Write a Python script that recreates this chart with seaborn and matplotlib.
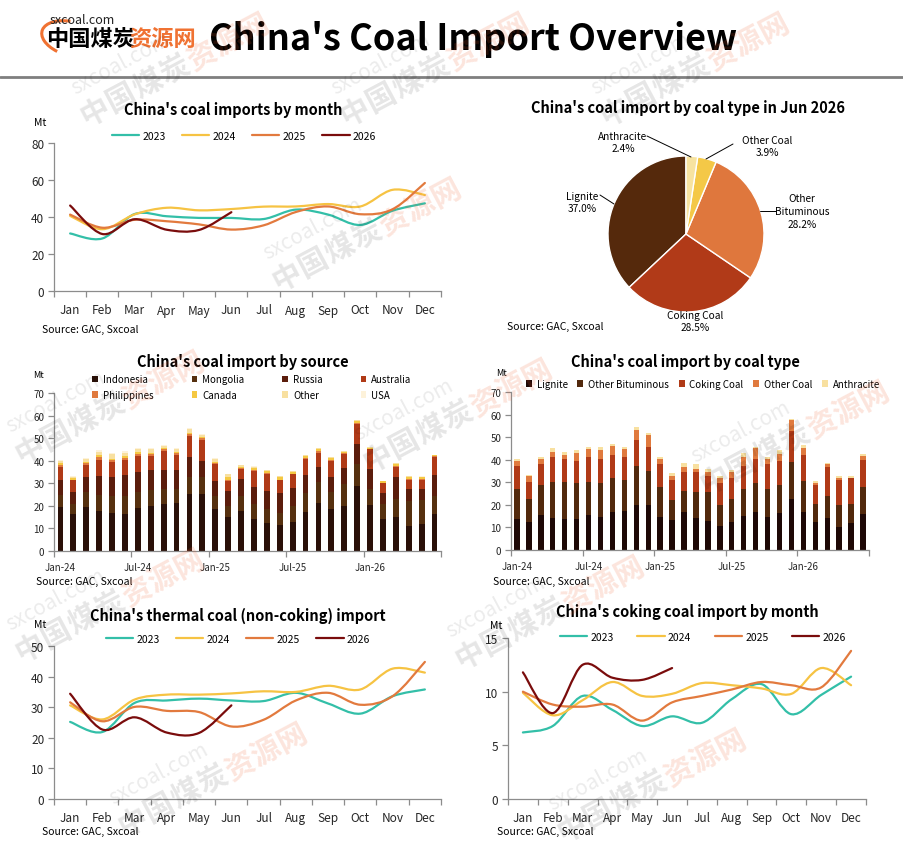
import matplotlib
matplotlib.use("Agg")
import matplotlib.pyplot as plt
from matplotlib.path import Path
from matplotlib.patches import PathPatch, Patch, Arc
from matplotlib.lines import Line2D
import numpy as np
import pandas as pd
import seaborn as sns

# ---- data -------------------------------------------------------------
months = ["Jan", "Feb", "Mar", "Apr", "May", "Jun",
          "Jul", "Aug", "Sep", "Oct", "Nov", "Dec"]
periods = [f"{m}-{y}" for y in ("24", "25", "26") for m in months][:30]

# total imports by month (Mt)
total_2023 = [31.1, 28.4, 41.6, 40.4, 39.5, 39.5, 38.9, 44.0, 41.3, 35.7, 43.4, 47.4]
total_2024 = [40.6, 33.4, 41.4, 45.0, 43.6, 44.3, 45.6, 45.7, 47.0, 45.7, 54.7, 51.9]
total_2025 = [41.3, 34.2, 38.5, 37.7, 36.0, 33.2, 35.5, 42.7, 45.7, 41.5, 44.2, 58.4]
total_2026 = [46.2, 30.8, 38.8, 33.1, 33.0, 42.6]

# thermal (non-coking) coal
thermal_2023 = [25.2, 21.9, 31.4, 32.2, 32.8, 32.2, 32.0, 34.7, 31.2, 27.9, 33.6, 35.8]
thermal_2024 = [30.6, 26.0, 32.5, 34.1, 34.1, 34.5, 35.2, 35.0, 37.0, 35.8, 42.6, 41.3]
thermal_2025 = [31.6, 25.4, 30.1, 28.8, 28.4, 23.7, 25.9, 32.2, 34.7, 30.8, 33.6, 44.8]
thermal_2026 = [34.4, 22.7, 26.7, 21.7, 21.6, 30.6]

# coking coal
coking_2023 = [6.2, 6.8, 9.6, 8.3, 6.8, 7.7, 7.1, 9.3, 10.7, 7.9, 9.7, 11.4]
coking_2024 = [9.9, 7.8, 9.2, 10.9, 9.6, 9.8, 10.8, 10.6, 10.3, 9.8, 12.2, 10.6]
coking_2025 = [10.0, 8.8, 8.6, 8.8, 7.3, 9.0, 9.6, 10.2, 10.9, 10.6, 10.4, 13.8]
coking_2026 = [11.8, 8.0, 12.5, 11.3, 11.1, 12.2]

# imports by source, Jan-24 .. Jun-26
indonesia = [19.6, 16.6, 19.6, 17.7, 16.9, 16.5, 19.0, 20.0, 20.8, 21.4, 25.2, 25.2,
             18.8, 15.1, 17.7, 14.1, 12.5, 11.6, 12.9, 17.4, 21.4, 18.5, 20.0, 28.9,
             20.5, 14.1, 15.1, 11.1, 11.9, 16.3]
mongolia = [5.4, 4.4, 6.7, 7.3, 7.6, 8.0, 7.0, 7.0, 6.7, 6.1, 7.4, 7.4,
            5.7, 4.9, 6.8, 6.7, 6.0, 5.4, 7.1, 8.3, 9.0, 7.5, 9.7, 9.7,
            7.0, 6.7, 7.9, 11.2, 10.8, 8.2]
russia = [6.5, 5.1, 6.7, 8.4, 8.5, 9.2, 9.0, 8.9, 8.4, 8.4, 9.1, 7.3,
          6.5, 6.6, 7.4, 7.7, 8.1, 8.7, 8.0, 8.0, 7.0, 7.0, 7.2, 8.6,
          8.9, 4.9, 10.0, 5.1, 4.7, 9.2]
australia = [5.9, 5.4, 5.3, 7.1, 6.5, 6.8, 7.3, 6.4, 8.3, 6.7, 9.3, 9.1,
             7.6, 4.6, 4.5, 7.0, 7.7, 5.6, 6.0, 7.1, 6.2, 7.0, 6.1, 9.2,
             8.6, 4.3, 4.1, 4.2, 4.2, 7.8]
philippines = [0.9, 0.0, 0.7, 1.3, 0.6, 0.8, 0.7, 0.5, 0.8, 0.6, 0.7, 0.9,
               0.5, 0.3, 0.4, 0.5, 0.3, 0.2, 0.2, 0.6, 0.6, 0.4, 0.3, 0.5,
               0.3, 0.3, 0.6, 0.5, 0.4, 0.4]
canada = [0.9, 0.8, 0.6, 0.8, 0.6, 0.7, 0.8, 0.6, 0.8, 0.6, 0.8, 0.6,
          0.5, 1.2, 0.6, 0.7, 0.8, 1.4, 1.0, 0.6, 1.0, 0.8, 0.5, 0.9,
          0.5, 0.5, 0.7, 0.9, 0.8, 0.5]
other_src = [0.8, 0.6, 1.0, 1.4, 2.2, 1.5, 1.3, 1.8, 0.8, 1.4, 1.6, 1.0,
             1.2, 1.2, 0.7, 0.6, 0.4, 0.4, 0.2, 0.5, 0.4, 0.5, 0.3, 0.3,
             0.1, 0.1, 0.5, 0.3, 0.2, 0.1]
usa = [0.4, 0.3, 0.8, 0.8, 0.6, 0.7, 0.4, 0.5, 0.4, 0.5, 0.6, 0.4,
       0.4, 0.2, 0.2, 0.2, 0.1, 0.1, 0.1, 0.1, 0.1, 0.1, 0.1, 0.1,
       0.1, 0.1, 0.1, 0.1, 0.1, 0.1]

# imports by coal type, Jan-24 .. Jun-26
lignite = [13.8, 12.4, 15.7, 14.2, 13.8, 13.8, 15.7, 14.8, 16.9, 17.3, 20.1, 20.1,
           14.8, 13.3, 16.9, 14.2, 12.9, 10.8, 12.6, 15.2, 16.9, 14.8, 16.4, 22.6,
           16.9, 12.4, 14.2, 10.2, 12.0, 15.8]
other_bit = [13.3, 10.2, 12.9, 16.1, 16.5, 15.9, 14.6, 14.7, 15.2, 13.8, 16.9, 15.0,
             13.0, 9.0, 9.4, 11.6, 12.9, 9.2, 10.0, 11.9, 12.6, 12.3, 12.5, 16.5,
             13.7, 8.0, 9.9, 9.8, 8.4, 12.0]
coking_type = [10.3, 7.7, 9.3, 11.1, 9.8, 9.8, 10.7, 10.6, 10.1, 9.9, 11.8, 10.6,
               10.1, 8.8, 8.3, 8.8, 7.2, 9.5, 9.5, 10.3, 10.6, 10.8, 10.6, 13.7,
               11.6, 8.2, 12.5, 11.1, 11.3, 12.1]
other_coal = [2.1, 2.3, 2.2, 2.1, 2.1, 3.6, 3.8, 4.4, 4.0, 3.8, 4.5, 5.1,
              2.5, 1.9, 2.0, 1.4, 1.6, 2.2, 2.5, 3.6, 4.9, 2.5, 3.1, 4.6,
              2.8, 1.3, 1.6, 1.0, 0.4, 1.7]
anthracite = [0.9, 0.8, 1.2, 1.5, 1.3, 1.3, 0.9, 1.2, 0.8, 0.9, 1.3, 1.1,
              0.9, 1.2, 2.0, 1.9, 1.4, 1.3, 0.9, 1.8, 0.7, 0.9, 1.5, 0.8,
              1.3, 0.7, 0.4, 0.9, 0.9, 1.0]

# Jun 2026 share by coal type (%), counter-clockwise from 12 o'clock
pie_labels = ["Lignite", "Coking Coal", "Other\nBituminous", "Other Coal", "Anthracite"]
pie_share = [37.0, 28.5, 28.2, 3.9, 2.4]

# ---- style ------------------------------------------------------------
sns.set_theme(style="white")
plt.rcParams["font.family"] = ["Noto Sans CJK SC", "DejaVu Sans"]
plt.rcParams["axes.edgecolor"] = "#8c8c8c"
plt.rcParams["axes.linewidth"] = 0.9
plt.rcParams["text.color"] = "black"

YEAR_COLORS = {"2023": "#33bfa8", "2024": "#f6c343", "2025": "#e27a3e", "2026": "#7a0c0c"}
GRAY = "#8c8c8c"

W, H = 904, 853
fig = plt.figure(figsize=(W / 100, H / 100), dpi=100)
fig.patch.set_facecolor("white")


def rect(x0, y0, x1, y1):
    return [x0 / W, 1 - y1 / H, (x1 - x0) / W, (y1 - y0) / H]


def ftext(x, y, s, **kw):
    return fig.text(x / W, 1 - y / H, s, **kw)


def smooth_path(xs, ys):
    # cubic bezier through the points (Excel-like "smoothed line")
    pts = np.column_stack([xs, ys]).astype(float)
    verts = [pts[0]]
    codes = [Path.MOVETO]
    n = len(pts)
    for i in range(n - 1):
        p0 = pts[i - 1] if i > 0 else pts[i]
        p1, p2 = pts[i], pts[i + 1]
        p3 = pts[i + 2] if i + 2 < n else pts[i + 1]
        verts += [p1 + (p2 - p0) / 6, p2 - (p3 - p1) / 6, p2]
        codes += [Path.CURVE4] * 3
    return Path(verts, codes)


def style_axes(ax, ymax, ystep, fs, xpad):
    sns.despine(ax=ax)
    ax.set_ylim(0, ymax)
    ax.set_yticks(np.arange(0, ymax + 0.01, ystep))
    ax.tick_params(axis="y", which="major", direction="out", length=4, width=0.9,
                   color=GRAY, labelsize=fs, pad=3, left=True)
    ax.tick_params(axis="x", which="major", length=0, labelsize=fs, pad=xpad)
    ax.tick_params(axis="x", which="minor", direction="out", length=4, width=0.9,
                   color=GRAY, bottom=True)
    ax.set_xlabel("")
    ax.set_ylabel("")
    ax.set_facecolor("none")


def line_panel(box, series, ymax, ystep, title, title_xy, mt_xy, leg_xy, leg_sp, src_xy):
    ax = fig.add_axes(rect(*box))
    for year, vals in series:
        ax.add_patch(PathPatch(smooth_path(np.arange(len(vals)), vals), fill=False,
                               edgecolor=YEAR_COLORS[year], lw=1.6, capstyle="round"))
    ax.set_xlim(-0.5, 11.5)
    ax.set_xticks(range(12))
    ax.set_xticklabels(months)
    ax.set_xticks(np.arange(-0.5, 12, 1), minor=True)
    style_axes(ax, ymax, ystep, 8.5, 9)
    ftext(*title_xy, title, ha="center", va="center", fontsize=10.5, fontweight="bold")
    ftext(*mt_xy, "Mt", ha="center", va="center", fontsize=7.5)
    ftext(*src_xy, "Source: GAC, Sxcoal", ha="left", va="center", fontsize=7.5)
    handles = [Line2D([], [], color=YEAR_COLORS[y], lw=1.6) for y, _ in series]
    fig.legend(handles, [y for y, _ in series], loc="center", ncol=4, frameon=False,
               bbox_to_anchor=(leg_xy[0] / W, 1 - leg_xy[1] / H), fontsize=7.5,
               handlelength=2.6, handletextpad=0.3, columnspacing=leg_sp)
    return ax


def bar_panel(box, series, title, title_xy, mt_xy, leg_xy, leg_ncol, leg_sp, src_xy):
    ax = fig.add_axes(rect(*box))
    cums = np.cumsum(np.array([v for _, v, _ in series]), axis=0)
    # draw cumulative tops from the highest down, so each layer shows its own slice
    for k in reversed(range(len(series))):
        sns.barplot(x=periods, y=cums[k], order=periods, color=series[k][2], saturation=1,
                    width=0.45, linewidth=0, errorbar=None, ax=ax)
    ax.set_xlim(-0.5, 29.5)
    ax.set_xticks(range(0, 30, 6))
    ax.set_xticklabels([periods[i] for i in range(0, 30, 6)])
    ax.set_xticks(np.arange(-0.5, 30, 6), minor=True)
    style_axes(ax, 70, 10, 7, 8)
    ftext(*title_xy, title, ha="center", va="center", fontsize=10.5, fontweight="bold")
    ftext(*mt_xy, "Mt", ha="center", va="center", fontsize=6.5)
    ftext(*src_xy, "Source: GAC, Sxcoal", ha="left", va="center", fontsize=7.5)
    # legend fills column by column, so reorder to read row by row
    nrow = int(np.ceil(len(series) / leg_ncol))
    order = [r * leg_ncol + c for c in range(leg_ncol) for r in range(nrow)
             if r * leg_ncol + c < len(series)]
    handles = [Patch(facecolor=series[i][2], edgecolor="none") for i in order]
    names = [series[i][0] for i in order]
    fig.legend(handles, names, loc="center", ncol=leg_ncol, frameon=False,
               bbox_to_anchor=(leg_xy[0] / W, 1 - leg_xy[1] / H), fontsize=7,
               handlelength=0.6, handleheight=0.6, handletextpad=0.5,
               columnspacing=leg_sp, labelspacing=0.6)
    return ax


# ---- header -------------------------------------------------------------
ftext(82, 20, "sxcoal.com", ha="center", va="center", fontsize=9, color="#222222")
ftext(46, 39, "中国煤炭", ha="left", va="center", fontsize=16, fontweight="bold")
ftext(129, 39, "资源网", ha="left", va="center", fontsize=16, fontweight="bold", color="#f07232")
fig.add_artist(Arc((0.72, 8.53 - 0.40), 0.62, 0.34, angle=-15, theta1=110, theta2=235,
                   transform=fig.dpi_scale_trans, color="#f07232", lw=2.2))
ftext(473, 40, "China's Coal Import Overview", ha="center", va="center",
      fontsize=26, fontweight="bold")
fig.add_artist(Line2D([0, 1], [1 - 78 / H, 1 - 78 / H], transform=fig.transFigure,
                      color="#7f7f7f", lw=2))

# ---- panels ---------------------------------------------------------------
line_panel((54, 144, 441, 292),
           [("2023", total_2023), ("2024", total_2024), ("2025", total_2025), ("2026", total_2026)],
           80, 20, "China's coal imports by month", (233, 110), (40, 123), (244, 137), 1.6,
           (42, 330))

line_panel((54, 647, 441, 800),
           [("2023", thermal_2023), ("2024", thermal_2024), ("2025", thermal_2025), ("2026", thermal_2026)],
           50, 10, "China's thermal coal (non-coking) import", (238, 616), (40, 625), (238, 640), 1.6,
           (42, 832))

line_panel((508, 639, 866, 800),
           [("2023", coking_2023), ("2024", coking_2024), ("2025", coking_2025), ("2026", coking_2026)],
           15, 5, "China's coking coal import by month", (687, 612), (496, 626), (703, 638), 2.3,
           (497, 832))

bar_panel((54, 394, 441, 552),
          [("Indonesia", indonesia, "#2a1008"), ("Mongolia", mongolia, "#56300f"),
           ("Russia", russia, "#5b1d0c"), ("Australia", australia, "#b03a17"),
           ("Philippines", philippines, "#e07a3e"), ("Canada", canada, "#f5c842"),
           ("Other", other_src, "#f8e0a0"), ("USA", usa, "#fdf2da")],
          "China's coal import by source", (243, 362), (38, 376), (252, 388), 4, 3.9, (36, 582))

bar_panel((511, 393, 869, 551),
          [("Lignite", lignite, "#1e0806"), ("Other Bituminous", other_bit, "#52290d"),
           ("Coking Coal", coking_type, "#b03a17"), ("Other Coal", other_coal, "#e07a3e"),
           ("Anthracite", anthracite, "#f8e0a0")],
          "China's coal import by coal type", (685, 362), (502, 374), (703, 385), 5, 1.0, (493, 582))

# pie
cx, cy, r = 686, 235, 78
axp = fig.add_axes(rect(cx - r, cy - r, cx + r, cy + r))
axp.pie(pie_share, colors=["#55290c", "#b13a18", "#df773d", "#f4c847", "#f7e3a0"],
        startangle=90, counterclock=True, radius=1,
        wedgeprops=dict(edgecolor="white", linewidth=1.0))
axp.set_xlim(-1, 1)
axp.set_ylim(-1, 1)
axp.axis("off")


def pie_xy(px, py):
    return ((px - cx) / r, (cy - py) / r)


pie_text = [
    ("Lignite\n37.0%", (582, 203), ((600, 196), (614, 205))),
    ("Coking Coal\n28.5%", (695, 322), None),
    ("Other\nBituminous\n28.2%", (802, 212), ((776, 212), (760, 212))),
    ("Other Coal\n3.9%", (767, 147), ((733, 145), (706, 160))),
    ("Anthracite\n2.4%", (623, 143), ((647, 137), (691, 158))),
]
for txt, pos, lead in pie_text:
    axp.text(*pie_xy(*pos), txt, ha="center", va="center", fontsize=7.3,
             linespacing=1.35, clip_on=False)
    if lead:
        (x0, y0), (x1, y1) = lead
        axp.plot([pie_xy(x0, y0)[0], pie_xy(x1, y1)[0]], [pie_xy(x0, y0)[1], pie_xy(x1, y1)[1]],
                 color="black", lw=0.7, clip_on=False)
ftext(688, 108, "China's coal import by coal type in Jun 2026", ha="center", va="center",
      fontsize=10.5, fontweight="bold")
ftext(507, 327, "Source: GAC, Sxcoal", ha="left", va="center", fontsize=7.5)

# ---- watermarks -------------------------------------------------------------
ang = 28
d = np.array([np.cos(np.radians(ang)), -np.sin(np.radians(ang))])   # pixel space, y down
nrm = np.array([-np.sin(np.radians(ang)), -np.cos(np.radians(ang))])
for sx, sy in [(95, 112), (355, 112), (615, 112), (287, 277), (30, 450), (378, 458),
               (715, 480), (30, 648), (470, 655), (133, 822), (572, 828)]:
    start = np.array([sx, sy], dtype=float)
    for i, ch in enumerate("中国煤炭资源网"):
        px, py = start + i * 30 * d
        col, al = ("#000000", 0.10) if i < 4 else ("#f05a28", 0.16)
        ftext(px, py, ch, ha="center", va="center", fontsize=21, fontweight="bold",
              rotation=ang, color=col, alpha=al, zorder=20)
    px, py = start + 45 * d + 30 * nrm
    ftext(px, py, "sxcoal.com", ha="center", va="center", fontsize=15, rotation=ang,
          color="#000000", alpha=0.08, zorder=20)

fig.savefig("out.png", dpi=100, facecolor="white")
